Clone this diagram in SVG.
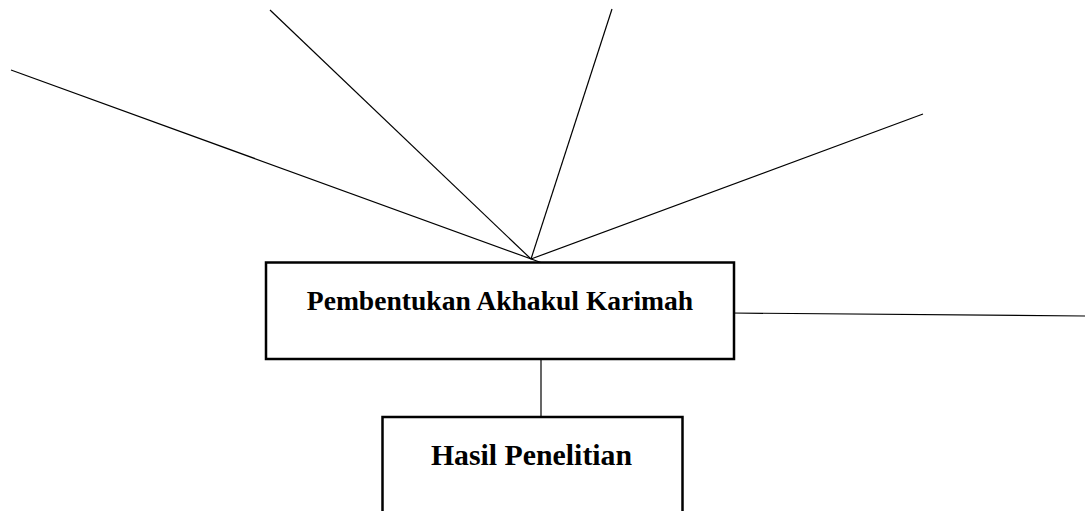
<svg xmlns="http://www.w3.org/2000/svg" width="1085" height="511" viewBox="0 0 1085 511">
<style>
.box{fill:#fff;stroke:#000;stroke-width:2.5}
.ln{stroke:#000;stroke-width:1.2;fill:none}
.lbl{font-family:"Liberation Serif","Times New Roman",serif;font-weight:bold;fill:#000;text-anchor:middle}
</style>
<rect width="1085" height="511" fill="#fff"/>
<g id="connectors">
<line class="ln" x1="11" y1="70" x2="545" y2="264"/>
<line class="ln" x1="270" y1="10" x2="531" y2="259"/>
<line class="ln" x1="612" y1="9" x2="531" y2="259"/>
<line class="ln" x1="923" y1="114" x2="531" y2="259"/>
<line class="ln" x1="731" y1="313" x2="1085" y2="316"/>
<line class="ln" x1="541" y1="357" x2="541" y2="418"/>
</g>
<g id="node-pembentukan">
<rect class="box" x="266" y="262.5" width="468" height="96.5"/>
<text class="lbl" x="500" y="310" font-size="27.6">Pembentukan Akhakul Karimah</text>
</g>
<g id="node-hasil">
<rect class="box" x="382.5" y="417" width="300" height="110"/>
<text class="lbl" x="531.5" y="465" font-size="29.8">Hasil Penelitian</text>
</g>
</svg>
